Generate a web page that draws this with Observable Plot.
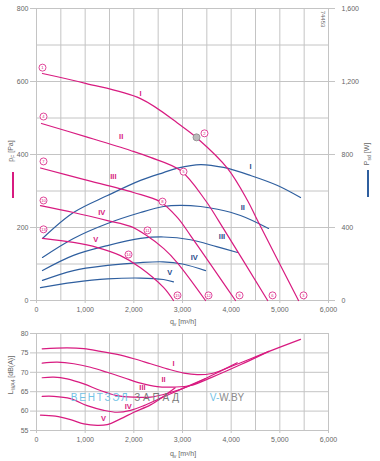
<!DOCTYPE html>
<html><head><meta charset="utf-8">
<script src="https://cdn.jsdelivr.net/npm/d3@7"></script>
<script src="https://cdn.jsdelivr.net/npm/@observablehq/plot@0.6"></script>
<style>
body{margin:0;background:#fff;font-family:"Liberation Sans",Arial,sans-serif;}
#wrap{width:380px;height:461px;}
svg{display:block;overflow:visible}
</style></head><body><div id="wrap"></div>
<script>
// ---- pressure curves  [q m³/h, pF Pa]
const pressureI   = [[123,622],[1007,595],[2137,553],[2959,480],[3309,444],[3925,362],[4336,274],[4542,219],[5384,0]];
const pressureII  = [[103,485],[1007,449],[1932,411],[2342,392],[2959,356],[3473,274],[3740,219],[4750,0]];
const pressureIII = [[82,363],[966,332],[1993,296],[2548,270],[2897,227],[3165,178],[4089,0]];
const pressureIV  = [[82,260],[760,241],[1459,219],[1932,203],[2240,180],[2616,142],[2890,104],[3473,0]];
const pressureV   = [[123,170],[760,159],[1254,145],[1726,123],[2137,90],[2610,36],[2815,0]];
// ---- power curves  [q m³/h, Psd W]
const powerI   = [[123,340],[760,482],[1459,575],[2137,658],[2610,701],[2897,725],[3370,745],[3843,729],[4398,685],[4953,630],[5425,564]];
const powerII  = [[123,236],[760,340],[1459,422],[2137,482],[2610,515],[2959,521],[3370,515],[3720,500],[4192,466],[4768,395]];
const powerIII = [[123,164],[760,247],[1459,301],[2137,340],[2610,348],[3165,333],[3700,295],[4130,263]];
const powerIV  = [[123,110],[760,164],[1459,192],[2137,208],[2600,212],[3000,200],[3473,164]];
const powerV   = [[82,71],[760,99],[1459,118],[2137,123],[2610,115],[2815,102]];
// ---- sound curves  [q m³/h, LWA4 dB(A)]
const soundI   = [[117,76.05],[630,76.3],[973,76.1],[1315,75.4],[1658,74.6],[2000,73.5],[2343,72.2],[2685,70.9],[3028,69.8],[3300,69.4],[3600,69.7],[4100,72.0],[4700,75.0],[5425,78.5]];
const soundII  = [[117,72.35],[425,72.6],[767,72.2],[1110,71.3],[1452,70.0],[1795,68.6],[2137,67.2],[2480,66.3],[2822,66.2],[3165,66.6],[3600,68.7],[4200,72.0],[4774,75.4]];
const soundIII = [[117,68.6],[356,68.75],[630,68.3],[973,67.0],[1315,65.3],[1658,64.0],[2000,63.6],[2343,63.6],[2700,64.6],[3165,66.6],[3650,69.5],[4124,72.45]];
const soundIV  = [[117,63.8],[356,63.8],[699,63.2],[1041,61.4],[1384,60.2],[1658,59.7],[1932,60.2],[2206,61.4],[2600,63.6],[3000,65.8],[3473,68.4]];
const soundV   = [[82,58.95],[390,58.7],[699,57.8],[973,56.7],[1247,56.3],[1452,56.5],[1726,58.0],[2000,59.7],[2343,61.6],[2600,63.7],[2850,66.0]];
// ---- labels
const curveNames = ["I","II","III","IV","V"];
const pressLabelQ = [2137,1740,1580,1340,1215];
const pressLabelP = [568,450,340,241,168];
const powerLabelQ = [4400,4240,3810,3240,2740];
const powerLabelW = [735,508,351,236,153];
const soundLabelQ = [2815,2610,2178,1884,1377];
const soundLabelL = [72.3,68.1,66.0,61.1,58.1];
const markerNo = [1,2,3,4,5,6,7,8,9,10,11,12,13,14,15];
const markerQ  = [123,3452,5487,144,3021,4850,144,2589,4172,144,2281,3535,144,1891,2897];
const markerP  = [638,458,14,504,353,14,381,271,14,274,192,14,195,126,14];
const refMarkerQ = [3288], refMarkerP = [447];
const xTicks = [0,1000,2000,3000,4000,5000,6000];
const pTicks = [0,200,400,600,800];
const lTicks = [55,60,65,70,75,80];

const MAG = "#d81b80", BLUE = "#2f5f9f", GRID = "#c4c4c4", TXT = "#666";
const fmt = d3.format(",");
const font = "Liberation Sans, Arial, sans-serif";

const pressSets = [pressureI,pressureII,pressureIII,pressureIV,pressureV];
const powerSets = [powerI,powerII,powerIII,powerIV,powerV];
const soundSets = [soundI,soundII,soundIII,soundIV,soundV];
const toRows = (sets) => sets.flatMap((s,i)=>s.map(([q,v])=>({q,v,c:curveNames[i]})));
const pressRows = toRows(pressSets);
const powerRows = toRows(powerSets).map(d=>({...d, v:d.v/2}));   // W mapped on Pa scale (1600 W ↔ 800 Pa)
const soundRows = toRows(soundSets);
const idx = curveNames.map((_,i)=>i);
const markers = markerNo.map((n,i)=>({n, q:markerQ[i], p:markerP[i]}));

const topPlot = Plot.plot({
  width: 380, height: 327,
  marginLeft: 36, marginRight: 52, marginTop: 8, marginBottom: 27,
  style: {fontFamily: font, fontSize: "7px", color: TXT, background: "transparent"},
  x: {domain: [0, 6000]},
  y: {domain: [0, 800]},
  marks: [
    Plot.gridX(d3.range(0, 6001, 500), {stroke: GRID, strokeOpacity: 1}),
    Plot.gridY(d3.range(0, 801, 100), {stroke: GRID, strokeOpacity: 1}),
    Plot.axisX({ticks: xTicks, tickFormat: fmt, tickSize: 3, tickPadding: 4, label: null, stroke: GRID}),
    Plot.axisY({ticks: pTicks, tickFormat: fmt, tickSize: 6, tickPadding: 2, label: null, stroke: GRID}),
    Plot.axisY({anchor: "right", ticks: pTicks, tickFormat: d => fmt(d*2), tickSize: 6, tickPadding: 7, label: null, stroke: GRID}),
    Plot.line(powerRows, {x: "q", y: "v", z: "c", stroke: BLUE, strokeWidth: 1.2, curve: "catmull-rom"}),
    Plot.line(pressRows, {x: "q", y: "v", z: "c", stroke: MAG, strokeWidth: 1.2, curve: "catmull-rom"}),
    Plot.text(idx, {x: i => pressLabelQ[i], y: i => pressLabelP[i], text: i => curveNames[i], fill: MAG, fontSize: 7.5, fontWeight: "bold"}),
    Plot.text(idx, {x: i => powerLabelQ[i], y: i => powerLabelW[i]/2, text: i => curveNames[i], fill: "#1f4a8a", fontSize: 7.5, fontWeight: "bold"}),
    Plot.dot(markers, {x: "q", y: "p", r: 3.5, stroke: MAG, fill: "white", strokeWidth: 0.8}),
    Plot.text(markers, {x: "q", y: "p", text: d => String(d.n), fill: MAG, fontSize: 4.2}),
    Plot.dot(refMarkerQ.map((q,i)=>({q, p: refMarkerP[i]})), {x: "q", y: "p", r: 3.5, stroke: "#888", fill: "#bbb", strokeWidth: 0.8}),
  ]
});

const botPlot = Plot.plot({
  width: 380, height: 134,
  marginLeft: 36, marginRight: 52, marginTop: 6, marginBottom: 31,
  style: {fontFamily: font, fontSize: "7px", color: TXT, background: "transparent"},
  x: {domain: [0, 6000]},
  y: {domain: [55, 80]},
  marks: [
    Plot.gridX(d3.range(0, 6001, 500), {stroke: GRID, strokeOpacity: 1}),
    Plot.gridY(lTicks, {stroke: GRID, strokeOpacity: 1}),
    Plot.axisX({ticks: xTicks, tickFormat: fmt, tickSize: 3, tickPadding: 4, label: null, stroke: GRID}),
    Plot.axisY({ticks: lTicks, tickSize: 6, tickPadding: 2, label: null, stroke: GRID}),
    Plot.line(soundRows, {x: "q", y: "v", z: "c", stroke: MAG, strokeWidth: 1.2, curve: "catmull-rom"}),
    Plot.text(idx, {x: i => soundLabelQ[i], y: i => soundLabelL[i], text: i => curveNames[i], fill: MAG, fontSize: 7.5, fontWeight: "bold"}),
  ]
});

const wrap = document.getElementById("wrap");
wrap.appendChild(topPlot);
wrap.appendChild(botPlot);

// helper: rotated label with subscript
function label(svg, x, y, main, sub, rest, rot, color) {
  const t = d3.select(svg).append("text")
    .attr("transform", `translate(${x},${y}) rotate(${rot})`)
    .attr("text-anchor", "middle").attr("font-family", font)
    .attr("font-size", 7).attr("fill", color || TXT);
  t.append("tspan").text(main);
  t.append("tspan").attr("font-size", 5).attr("dy", 2).text(sub);
  t.append("tspan").attr("dy", -2).text(rest);
  return t;
}
const ts = d3.select(topPlot);
label(topPlot, 183, 324, "q", "v", " [m³/h]", 0);
label(topPlot, 12.5, 151, "p", "F", " [Pa]", -90);
ts.append("line").attr("x1", 13).attr("x2", 13).attr("y1", 172).attr("y2", 198).attr("stroke", MAG).attr("stroke-width", 2);
label(topPlot, 369, 154, "P", "sd", " [W]", -90);
ts.append("line").attr("x1", 368).attr("x2", 368).attr("y1", 170).attr("y2", 197).attr("stroke", BLUE).attr("stroke-width", 2);
ts.append("text").attr("transform", "translate(321,19) rotate(90)").attr("text-anchor", "middle")
  .attr("font-family", font).attr("font-size", 6).attr("fill", TXT).text("74453");

const bs = d3.select(botPlot);
label(botPlot, 183, 129, "q", "v", " [m³/h]", 0);
label(botPlot, 12.5, 48, "L", "WA4", " [dB(A)]", -90);
const wm = bs.append("text").attr("font-family", font).attr("font-size", 10).attr("y", 73.5);
wm.append("tspan").attr("x", 100).attr("fill", "#72c2e6").attr("letter-spacing", 1.8).text("ВЕНТЗЭЛ");
wm.append("tspan").attr("x", 158).attr("fill", "#7a7a7a").attr("letter-spacing", 2.8).text("ЗАПАД");
const wm2 = bs.append("text").attr("font-family", font).attr("font-size", 10).attr("y", 73.5).attr("x", 227);
wm2.append("tspan").attr("fill", "#72c2e6").text("V-");
wm2.append("tspan").attr("fill", "#8a8a8a").text("W.BY");
</script></body></html>
